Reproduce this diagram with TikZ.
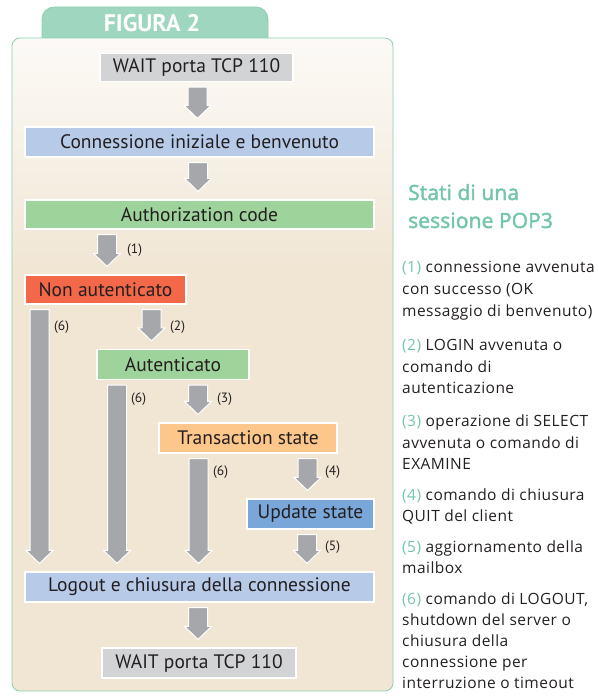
\documentclass[tikz,border=0pt]{standalone}
\usepackage{fontspec}
\setmainfont{PT Sans}
\newfontfamily\legendfont[LetterSpace=3]{Open Sans}
\newfontfamily\headfont[FakeBold=2.2,LetterSpace=0.5]{Open Sans}
\usetikzlibrary{calc}
\definecolor{tabgreen}{HTML}{9FD6BF}
\definecolor{framegreen}{HTML}{8DCFB3}
\definecolor{beige}{HTML}{F1E6D4}
\definecolor{framelight}{HTML}{FCFAF7}
\definecolor{boxgray}{HTML}{D2D3D5}
\definecolor{lightblue}{HTML}{B7CBE9}
\definecolor{boxgreen}{HTML}{9ED49B}
\definecolor{boxred}{HTML}{F26849}
\definecolor{boxorange}{HTML}{FDC68A}
\definecolor{boxblue}{HTML}{7AA7DA}
\definecolor{arrgray}{HTML}{A6A7AA}
\definecolor{textcol}{HTML}{231F20}
\definecolor{numgreen}{HTML}{74C6A9}
\newcommand\barrow[3]{%
  \path let \p1=(#2.south), \p2=(#3.north) in
    [fill=arrgray, draw=white, line width=1pt]
    (#1pt-9.5pt,\y1-5pt) -- (#1pt+9.5pt,\y1-5pt) -- (#1pt+9.5pt,\y2+21pt)
    -- (#1pt+13.5pt,\y2+21pt) -- (#1pt,\y2+8pt) -- (#1pt-13.5pt,\y2+21pt)
    -- (#1pt-9.5pt,\y2+21pt) -- cycle;}
\newcommand\nm[1]{\textcolor{numgreen}{(#1)}}
\begin{document}
\begin{tikzpicture}[x=1pt,y=-1pt,
  box/.style={draw=white, line width=1.2pt, inner sep=0pt, text=textcol,
    font=\fontsize{19.5}{22}\selectfont},
  lab/.style={anchor=west, inner sep=0pt, text=textcol, font=\fontsize{13.5}{15}\selectfont},
  leg/.style={anchor=base west, inner sep=0pt, text=textcol, font=\legendfont\fontsize{15.5}{17}\selectfont},
  head/.style={anchor=base west, inner sep=0pt, text=numgreen, font=\headfont\fontsize{21}{23}\selectfont}]
\useasboundingbox (0,0) rectangle (598,697);
% tab
\draw[fill=tabgreen, draw=framegreen, line width=0.8pt, rounded corners=12pt]
  (42,42) -- (42,7) -- (268,7) -- (268,42);
% frame
\fill[beige, rounded corners=8pt] (12,38) rectangle (393,691);
\shade[top color=framelight, bottom color=beige, rounded corners=8pt] (12,38) rectangle (393,270);
\draw[framegreen, line width=0.8pt, rounded corners=8pt] (12,38) rectangle (393,691);
\node[text=white, font=\bfseries\fontsize{24}{24}\selectfont] (fig) at (152,23) {FIGURA 2};
% boxes
\node[box, fill=boxgray, minimum width=193pt, minimum height=28pt] (w1) at (196.5,67.5) {WAIT porta TCP 110};
\node[box, fill=lightblue, minimum width=349pt, minimum height=30pt] (conn) at (199.5,142) {Connessione iniziale e benvenuto};
\node[box, fill=boxgreen, minimum width=349pt, minimum height=29pt] (auth) at (199.5,214.5) {Authorization code};
\node[box, fill=boxred, minimum width=161pt, minimum height=29pt] (nonaut) at (105.5,289.5) {Non autenticato};
\node[box, fill=boxgreen, minimum width=152pt, minimum height=30pt] (autent) at (173,364.5) {Autenticato};
\node[box, fill=boxorange, minimum width=178pt, minimum height=30pt] (trans) at (248,438) {Transaction state};
\node[box, fill=boxblue, minimum width=127pt, minimum height=30pt] (update) at (310.5,514) {Update state};
\node[box, fill=lightblue, minimum width=349pt, minimum height=30pt] (logout) at (199.5,587) {Logout e chiusura della connessione};
\node[box, fill=boxgray, minimum width=194pt, minimum height=30pt] (w2) at (199,663) {WAIT porta TCP 110};
% arrows
\barrow{197.5}{w1}{conn}
\barrow{198}{conn}{auth}
\barrow{107}{auth}{nonaut}
\barrow{39.5}{nonaut}{logout}
\barrow{151.5}{nonaut}{autent}
\barrow{117}{autent}{logout}
\barrow{198}{autent}{trans}
\barrow{198.5}{trans}{logout}
\barrow{307.5}{trans}{update}
\barrow{307}{update}{logout}
\barrow{198}{logout}{w2}
% labels
\node[lab] (l1) at (127,250) {(1)};
\node[lab] (l6a) at (54,327) {(6)};
\node[lab] (l2) at (170,327) {(2)};
\node[lab] (l6b) at (131,399) {(6)};
\node[lab] (l3) at (217,399) {(3)};
\node[lab] (l6c) at (213,472) {(6)};
\node[lab] (l4) at (325,472) {(4)};
\node[lab] (l5) at (325,547) {(5)};
% legend
\node[head] (h1) at (408,200) {Stati di una};
\node[head] (h2) at (408,228) {sessione POP3};
\foreach \yy/\tt [count=\i] in {
  272/{\nm{1} connessione avvenuta},
  294/{con successo (OK},
  316/{messaggio di benvenuto)},
  350/{\nm{2} LOGIN avvenuta o},
  372/{comando di},
  393/{autenticazione},
  426/{\nm{3} operazione di SELECT},
  448/{avvenuta o comando di},
  469/{EXAMINE},
  500/{\nm{4} comando di chiusura},
  521/{QUIT del client},
  552/{\nm{5} aggiornamento della},
  573/{mailbox},
  604/{\nm{6} comando di LOGOUT,},
  625/{shutdown del server o},
  646/{chiusura della},
  667/{connessione per},
  688/{interruzione o timeout}}
  \node[leg] (leg\i) at (402,\yy) {\tt};
\end{tikzpicture}
\end{document}
